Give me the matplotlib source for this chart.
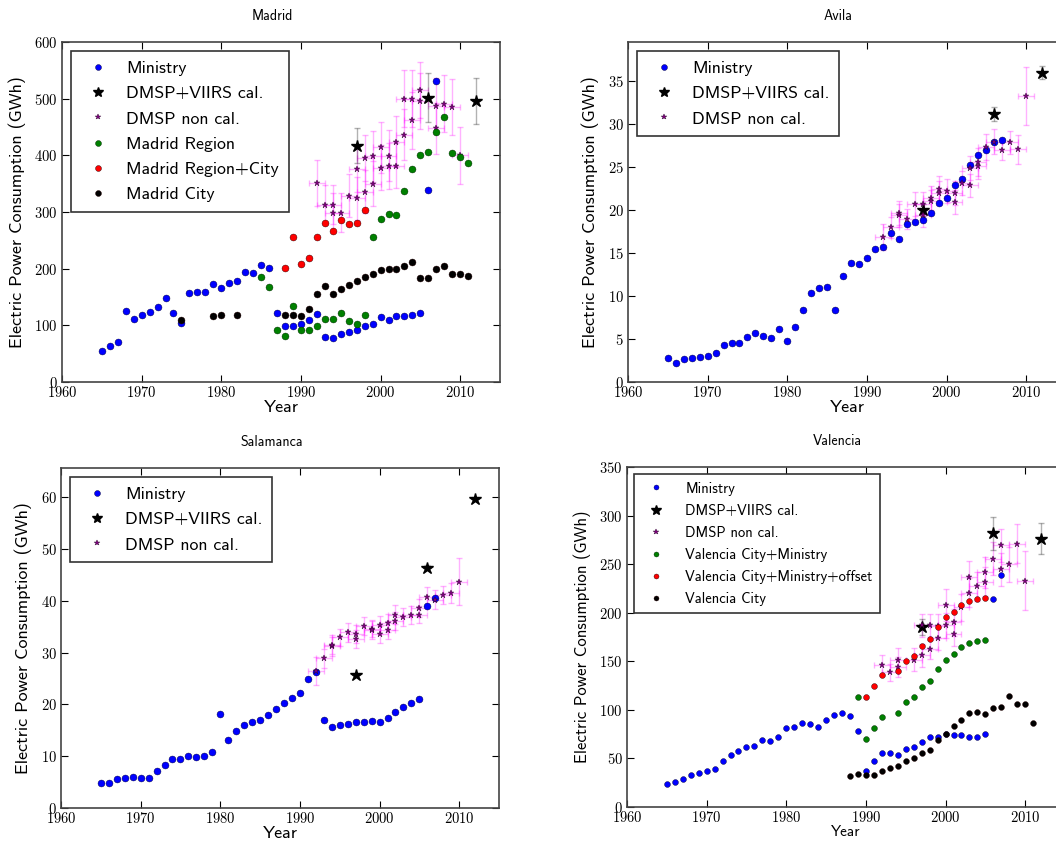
import matplotlib
matplotlib.use('Agg')
import matplotlib.pyplot as plt

plt.rcParams['font.family'] = 'cmr10'
plt.rcParams['axes.formatter.use_mathtext'] = True
plt.rcParams['mathtext.fontset'] = 'cm'

# ---------------- Madrid ----------------
mad_min_years = list(range(1965, 2008))
mad_min = [55, 63, 71, 126, 111, 118, 124, 132, 148, 121, 104, 157, 158, 159, 173,
           166, 175, 178, 194, 193, 206, 202, 122, 98, 99, 103, 109, 120, 79, 78,
           85, 89, 91, 99, 103, 115, 109, 116, 117, 119, 122, 338, 532]
mad_cal_years = [1997, 2006, 2012]
mad_cal = [417, 502, 496]
mad_cal_err = [31, 43, 40]
mad_nc_years = [1992, 1993, 1994, 1994, 1995, 1996, 1997, 1997, 1998, 1998, 1999, 1999,
                2000, 2000, 2001, 2001, 2002, 2002, 2003, 2003, 2004, 2004, 2005, 2005,
                2007, 2007, 2008, 2009, 2010]
mad_nc = [351, 313, 313, 299, 299, 329, 376, 324, 395, 336, 398, 350,
          414, 378, 399, 381, 424, 382, 436, 500, 500, 462, 515, 496,
          487, 448, 491, 485, 400]
mad_nc_err = [40, 35, 35, 35, 35, 38, 40, 38, 40, 38, 45, 40,
              45, 40, 45, 40, 45, 40, 45, 50, 50, 50, 50, 50,
              50, 45, 50, 50, 50]
mad_reg_years = list(range(1985, 2012))
mad_reg = [186, 168, 91, 82, 134, 92, 92, 99, 112, 112, 122, 107, 102, 119, 256,
           287, 296, 294, 337, 375, 400, 406, 442, 468, 404, 397, 387]
mad_rc_years = list(range(1988, 1999))
mad_rc = [202, 255, 209, 219, 255, 281, 267, 286, 278, 280, 304]
mad_city_years = [1975, 1979, 1980, 1982] + list(range(1988, 2012))
mad_city = [109, 117, 119, 118, 119, 119, 117, 128, 155, 169, 156, 164, 171, 179,
            185, 191, 198, 200, 200, 204, 211, 184, 184, 200, 205, 191, 191, 187]

# ---------------- Avila ----------------
avi_min_years = list(range(1965, 2008))
avi_min = [2.8, 2.26, 2.65, 2.8, 2.9, 3.07, 3.35, 4.3, 4.5, 4.55, 5.25, 5.76, 5.33,
           5.14, 6.15, 4.79, 6.4, 8.37, 10.4, 10.9, 11.1, 8.44, 12.4, 13.85, 13.7,
           14.4, 15.5, 15.7, 17.4, 16.7, 18.4, 18.6, 18.9, 19.7, 20.85, 21.4, 22.9,
           23.7, 25.3, 26.4, 27.0, 27.9, 28.2]
avi_cal_years = [1997, 2006, 2012]
avi_cal = [20.0, 31.2, 36.0]
avi_cal_err = [0.7, 0.8, 0.75]
avi_nc_years = [1992, 1993, 1994, 1994, 1995, 1996, 1997, 1997, 1998, 1998, 1999, 1999,
                2000, 2001, 2001, 2002, 2003, 2003, 2004, 2004, 2005, 2006, 2007, 2008,
                2009, 2010]
avi_nc = [16.9, 18.0, 19.7, 19.4, 19.0, 20.7, 20.7, 19.4, 21.4, 21.1, 22.5, 22.0,
          22.3, 22.0, 21.0, 23.2, 24.9, 22.9, 25.6, 25.1, 27.4, 28.0, 27.0, 27.9,
          27.1, 33.3]
avi_nc_err = [1.5, 1.2, 1.4, 1.3, 1.2, 1.4, 1.4, 1.3, 1.4, 1.3, 1.5, 1.4,
              1.4, 1.4, 1.4, 1.4, 1.4, 1.3, 1.6, 1.5, 1.5, 1.5, 1.2, 1.3,
              1.7, 3.4]

# ---------------- Salamanca ----------------
sal_min_years = list(range(1965, 2008))
sal_min = [4.8, 4.8, 5.5, 5.7, 6.0, 5.85, 5.7, 7.2, 8.3, 9.4, 9.5, 10.0, 9.8, 10.0,
           10.8, 18.1, 13.2, 14.8, 16.1, 16.5, 17.0, 18.0, 19.1, 20.2, 21.3, 22.2,
           24.9, 26.3, 16.9, 15.7, 16.1, 16.3, 16.5, 16.5, 16.8, 16.6, 17.3, 18.6,
           19.5, 20.3, 21.0, 38.9, 40.6]
sal_cal_years = [1997, 2006, 2012]
sal_cal = [25.7, 46.4, 59.6]
sal_cal_err = [0.4, 0.4, 0.4]
sal_nc_years = [1992, 1993, 1994, 1994, 1995, 1996, 1997, 1997, 1998, 1999, 1999,
                2000, 2000, 2001, 2001, 2002, 2002, 2003, 2004, 2005, 2005, 2006,
                2007, 2008, 2009, 2010]
sal_nc = [26.4, 28.9, 31.2, 31.5, 32.9, 33.9, 33.6, 32.6, 35.1, 34.6, 34.3,
          35.3, 33.5, 35.7, 34.3, 37.3, 36.1, 36.8, 37.2, 38.6, 37.3, 40.7,
          40.2, 41.1, 41.5, 43.7]
sal_nc_err = [2.7, 1.8, 1.8, 1.8, 1.7, 1.8, 1.8, 1.7, 1.8, 1.7, 1.7,
              1.8, 1.7, 1.8, 1.7, 1.8, 1.7, 1.7, 1.7, 1.8, 1.7, 1.9,
              1.8, 1.8, 2.0, 4.5]

# ---------------- Valencia ----------------
val_min_years = list(range(1965, 2008))
val_min = [24.1, 25.5, 29.3, 33.1, 35.5, 36.9, 39.0, 46.9, 53.1, 57.9, 61.4, 62.8,
           69.0, 68.3, 72.0, 81.7, 82.8, 86.9, 85.5, 82.0, 90.0, 95.2, 96.6, 93.4,
           78.3, 36.9, 47.6, 55.2, 55.9, 53.8, 59.7, 62.0, 66.6, 71.7, 72.4, 75.5,
           74.1, 74.5, 72.0, 72.0, 75.2, 213.8, 239.0]
val_cal_years = [1997, 2006, 2012]
val_cal = [185.2, 281.7, 276.0]
val_cal_err = [8, 17, 16]
val_nc_years = [1992, 1993, 1994, 1994, 1996, 1997, 1997, 1998, 1998, 1999, 1999,
                2000, 2000, 2001, 2001, 2002, 2003, 2003, 2004, 2005, 2005, 2006,
                2007, 2007, 2008, 2009, 2010]
val_nc = [146.2, 138.6, 151.7, 144.1, 151.7, 156.2, 186.9, 162.4, 186.9, 173.8, 186.2,
          186.9, 207.9, 178.6, 190.0, 205.5, 220.7, 236.9, 227.2, 231.7, 241.4, 255.5,
          244.5, 269.3, 250.0, 271.0, 233.1]
val_nc_err = [10, 9, 12, 10, 12, 12, 12, 10, 12, 12, 12,
              13, 16, 13, 14, 14, 15, 16, 15, 15, 16, 17,
              17, 17, 18, 20, 30]
val_cm_years = [1989, 1990, 1991, 1992] + list(range(1994, 2006))
val_cm = [112.8, 69.7, 81.0, 92.4, 96.9, 107.6, 112.8, 123.4, 129.7, 141.7, 151.4,
          157.6, 165.2, 169.0, 170.7, 171.4]
val_cmo_years = [1990, 1991, 1992] + list(range(1994, 2006))
val_cmo = [112.8, 124.1, 135.5, 140.0, 150.0, 155.5, 165.9, 172.8, 184.8, 195.2,
           200.7, 207.9, 212.0, 213.8, 214.8]
val_city_years = list(range(1988, 2012))
val_city = [31.7, 34.1, 33.1, 33.1, 36.9, 40.0, 42.4, 47.6, 50.0, 55.9, 58.3, 69.0,
            75.5, 83.4, 89.7, 97.2, 98.3, 96.2, 102.4, 103.1, 114.1, 106.2, 106.2, 86.9]

fig = plt.figure(figsize=(10.56, 8.41), dpi=100)

W = 438 / 1056
H = 340 / 841
positions = {
    'Madrid': [62 / 1056, (841 - 382) / 841, W, H],
    'Avila': [628 / 1056, (841 - 382) / 841, W, H],
    'Salamanca': [61 / 1056, (841 - 808) / 841, W, H],
    'Valencia': [627 / 1056, (841 - 807) / 841, W, H],
}


def panel(name, ylim, yticks, mins, cal, nc, extra, big=True):
    ax = fig.add_axes(positions[name])
    ms = 5 if big else 4.2
    # DMSP error bars first, markers on top
    ax.errorbar(nc[0], nc[1], yerr=nc[2], xerr=1, fmt='none',
                ecolor=(1, 0, 1, 0.3), elinewidth=1, capsize=2.5, capthick=1)
    ax.errorbar(cal[0], cal[1], yerr=cal[2], fmt='none',
                ecolor=(0, 0, 0, 0.3), elinewidth=1, capsize=2.5, capthick=1)
    h1, = ax.plot(mins[0], mins[1], 'o', color='b', ms=ms, mec='#000033', mew=0.3,
                  label='Ministry')
    h2, = ax.plot(cal[0], cal[1], '*', color='k', ms=9, label='DMSP+VIIRS cal.')
    h3, = ax.plot(nc[0], nc[1], '*', color='purple', ms=5, mec='#2a002a', mew=0.3,
                  label='DMSP non cal.')
    handles = [h1, h2, h3]
    for (xs, ys, col, lab) in extra:
        h, = ax.plot(xs, ys, 'o', color=col, ms=ms, mec='#002200' if col == 'g' else '#220000',
                     mew=0.3, label=lab)
        handles.append(h)
    ax.set_xlim(1960, 2015)
    ax.set_ylim(*ylim)
    ax.set_xticks([1960, 1970, 1980, 1990, 2000, 2010])
    ax.set_yticks(yticks)
    ax.tick_params(direction='in', top=True, right=True, length=5, width=0.8,
                   labelsize=10.5)
    ax.tick_params(axis='x', pad=2)
    ax.tick_params(axis='y', pad=3)
    for s in ax.spines.values():
        s.set_color('#444444')
        s.set_linewidth(1.2)
    fs_lab = 13 if big else 11
    ax.set_xlabel('Year', family='cmss10', fontsize=fs_lab, labelpad=0)
    ax.set_ylabel('Electric Power Consumption (GWh)', family='cmss10',
                  fontsize=fs_lab if big else 12, labelpad=6)
    ax.set_title(name, family='cmss10', fontsize=10, x=0.48, pad=16)
    if big:
        lp = dict(prop={'family': 'cmss10', 'size': 12.8}, labelspacing=0.55,
                  handletextpad=0.55, borderpad=0.55)
    else:
        lp = dict(prop={'family': 'cmss10', 'size': 10.5}, labelspacing=0.55,
                  handletextpad=1.0, borderpad=0.5)
    leg = ax.legend(handles=handles, loc='upper left', numpoints=1,
                    fancybox=False, framealpha=1, edgecolor='#333333',
                    handlelength=2.0, borderaxespad=0.5, markerscale=0.85, **lp)
    leg.get_frame().set_linewidth(1.2)
    return ax


panel('Madrid', (0, 600), [0, 100, 200, 300, 400, 500, 600],
      (mad_min_years, mad_min), (mad_cal_years, mad_cal, mad_cal_err),
      (mad_nc_years, mad_nc, mad_nc_err),
      [(mad_reg_years, mad_reg, 'g', 'Madrid Region'),
       (mad_rc_years, mad_rc, 'r', 'Madrid Region+City'),
       (mad_city_years, mad_city, 'k', 'Madrid City')])

panel('Avila', (0, 39.6), [0, 5, 10, 15, 20, 25, 30, 35],
      (avi_min_years, avi_min), (avi_cal_years, avi_cal, avi_cal_err),
      (avi_nc_years, avi_nc, avi_nc_err), [])

panel('Salamanca', (0, 65.6), [0, 10, 20, 30, 40, 50, 60],
      (sal_min_years, sal_min), (sal_cal_years, sal_cal, sal_cal_err),
      (sal_nc_years, sal_nc, sal_nc_err), [])

panel('Valencia', (0, 350), [0, 50, 100, 150, 200, 250, 300, 350],
      (val_min_years, val_min), (val_cal_years, val_cal, val_cal_err),
      (val_nc_years, val_nc, val_nc_err),
      [(val_cm_years, val_cm, 'g', 'Valencia City+Ministry'),
       (val_cmo_years, val_cmo, 'r', 'Valencia City+Ministry+offset'),
       (val_city_years, val_city, 'k', 'Valencia City')],
      big=False)

fig.savefig('out.png', dpi=100)
